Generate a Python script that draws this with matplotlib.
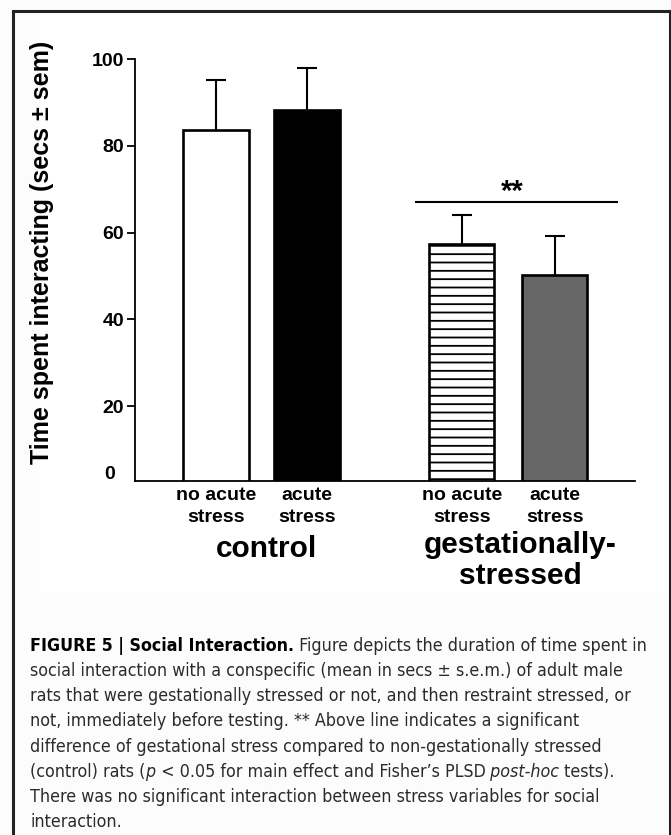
import numpy as np
import matplotlib
matplotlib.use("Agg")
import matplotlib.pyplot as plt
from matplotlib import font_manager
from matplotlib.patches import Rectangle
from matplotlib.lines import Line2D
from matplotlib.transforms import blended_transform_factory

# data
groups = ["control", "gestationally-\nstressed"]
conditions = ["no acute\nstress", "acute\nstress", "no acute\nstress", "acute\nstress"]
means = [83.7, 88.3, 57.4, 50.2]
sems = [11.5, 9.6, 6.6, 9.1]
y_ticks = [20, 40, 60, 80, 100]
sig_level = 67.1
sig_text = "**"

caption_lines = [
    [("FIGURE 5 | Social Interaction.", "bold", "normal"),
     (" Figure depicts the duration of time spent in", "normal", "normal")],
    [("social interaction with a conspecific (mean in secs \u00b1 s.e.m.) of adult male", "normal", "normal")],
    [("rats that were gestationally stressed or not, and then restraint stressed, or", "normal", "normal")],
    [("not, immediately before testing. ** Above line indicates a significant", "normal", "normal")],
    [("difference of gestational stress compared to non-gestationally stressed", "normal", "normal")],
    [("(control) rats (", "normal", "normal"), ("p", "normal", "italic"),
     (" < 0.05 for main effect and Fisher\u2019s PLSD", "normal", "normal"),
     (" post-hoc", "normal", "italic"), (" tests).", "normal", "normal")],
    [("There was no significant interaction between stress variables for social", "normal", "normal")],
    [("interaction.", "normal", "normal")],
]

W, H = 671, 835
positions = [0, 1, 2.7, 3.72]
faces = ["white", "black", "white", "#666666"]
hatches = [None, None, "--", None]

plt.rcParams['font.family'] = ['Liberation Sans', 'DejaVu Sans']
plt.rcParams['hatch.linewidth'] = 1.3

def fx(x):
    return x / W

def fy(y):
    return 1 - y / H

fig = plt.figure(figsize=(W / 100, H / 100), dpi=100, facecolor="#fcfcfc")
fig.add_artist(Rectangle((fx(40), fy(593)), fx(668) - fx(40), fy(12) - fy(593),
                         transform=fig.transFigure, facecolor="white",
                         edgecolor="none", zorder=0))

# frame around the figure
for xs, ys in [([13, 13], [11, H]), ([13, 670], [11, 11]), ([670, 670], [11, H])]:
    fig.add_artist(Line2D([fx(v) for v in xs], [fy(v) for v in ys],
                          transform=fig.transFigure, color="#222222", lw=2.2))

ax = fig.add_axes([fx(135), fy(481), fx(635) - fx(135), fy(59.3) - fy(481)])
ax.patch.set_alpha(0)
ax.set_xlim(-0.89, 4.604)
ax.set_ylim(2.7, 100)

tops = np.array(means) + np.array(sems)
ax.vlines(positions, means, tops, color="black", lw=1.5, zorder=1)
ax.hlines(tops, np.array(positions) - 0.11, np.array(positions) + 0.11,
          color="black", lw=1.5, zorder=1)
ax.bar(positions, means, width=0.72, color=faces, edgecolor="black",
       linewidth=1.9, hatch=hatches, zorder=2)

for s in ["top", "right"]:
    ax.spines[s].set_visible(False)
ax.spines["left"].set_linewidth(1.3)
ax.spines["bottom"].set_linewidth(1.3)
ax.set_xticks([])
ax.set_yticks(y_ticks)
ax.tick_params(axis="y", direction="out", length=6, width=1.3, pad=2,
               labelsize=14)
for lab in ax.get_yticklabels():
    lab.set_fontweight("bold")
ax.text(-1.165, 4.1, "0", ha="center", va="center", fontsize=14,
        fontweight="bold", clip_on=False)

ax.plot([2.2, 4.41], [sig_level, sig_level], color="black", lw=1.5)
ax.text(3.26, sig_level - 1.0, sig_text, ha="center", va="bottom",
        fontsize=21, fontweight="bold")

fig.text(fx(42), fy(252), "Time spent interacting (secs \u00b1 sem)",
         rotation=90, ha="center", va="center", fontsize=18, fontweight="bold")

tr = blended_transform_factory(ax.transData, fig.transFigure)
for p, cond in zip(positions, conditions):
    for k, line in enumerate(cond.split("\n")):
        ax.text(p, fy(495 + 22 * k), line, transform=tr, ha="center",
                va="center", fontsize=14, fontweight="bold")

group_x = [np.mean(positions[:2]) + 0.05, np.mean(positions[2:]) + 0.13]
group_y = [549, 545]
for gx, gy, g in zip(group_x, group_y, groups):
    for k, line in enumerate(g.split("\n")):
        ax.text(gx, fy(gy + 31 * k), line, transform=tr, ha="center",
                va="center", fontsize=21.5, fontweight="bold")

# caption, laid out piece by piece
names = {f.name for f in font_manager.fontManager.ttflist}
if "Liberation Sans Narrow" in names:
    cap_family, cap_stretch = "Liberation Sans Narrow", "normal"
else:
    cap_family, cap_stretch = "DejaVu Sans", "condensed"

renderer = fig.canvas.get_renderer()
probe_w = 0
for text, weight, style in caption_lines[0]:
    probe = fig.text(0, 0, text, fontsize=14, family=cap_family,
                     stretch=cap_stretch, fontweight=weight, fontstyle=style)
    probe_w += probe.get_window_extent(renderer).width
    probe.remove()
cap_size = 14 * 618 / probe_w

for i, segs in enumerate(caption_lines):
    x = 30
    yb = 651 + 25.15 * i
    for text, weight, style in segs:
        t = fig.text(fx(x), fy(yb), text, ha="left", va="baseline",
                     fontsize=cap_size, family=[cap_family, "DejaVu Sans"],
                     stretch=cap_stretch, fontweight=weight, fontstyle=style,
                     color="black" if weight == "bold" else "#2b2b2b")
        x += t.get_window_extent(renderer).width

fig.savefig("out.png", dpi=100, facecolor=fig.get_facecolor())
